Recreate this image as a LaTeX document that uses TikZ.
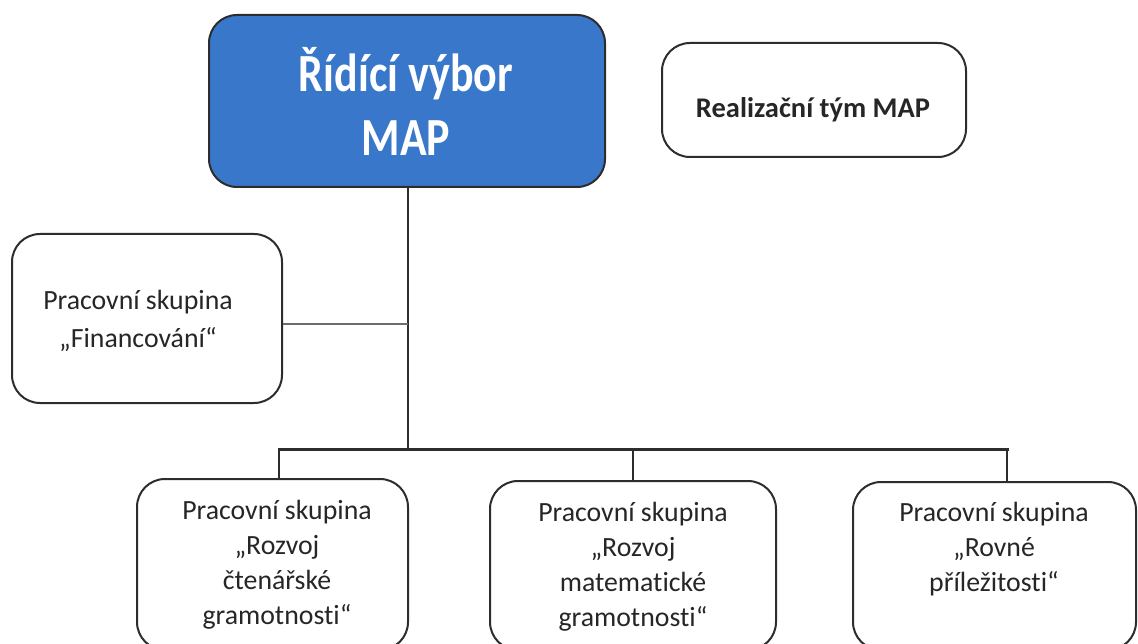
\documentclass[tikz,border=0pt]{standalone}
\usepackage{fontspec}
\setmainfont{Carlito}[Ligatures={NoCommon}]
\definecolor{mapblue}{RGB}{56,119,202}
\definecolor{edgecol}{RGB}{45,45,45}
\definecolor{ink}{RGB}{38,38,38}
\begin{document}
\begin{tikzpicture}[x=1pt,y=-1pt,
  box/.style={draw=edgecol,line width=2pt,rounded corners=28pt,fill=white,inner sep=0pt},
  bodytext/.style={text=ink,align=center,inner sep=0pt,font=\fontsize{27.8}{35}\selectfont},
  trunk/.style={draw=edgecol,line width=2.6pt},
  bus/.style={draw=edgecol,line width=3pt,line cap=rect},
  thinline/.style={draw=edgecol!70,line width=1.3pt}]
\useasboundingbox (0,0) rectangle (1138,644);
\clip (0,0) rectangle (1138,644);

% boxes
\node[box,fill=mapblue,minimum width=396pt,minimum height=172pt] (ridici) at (407,101) {};
\node[box,minimum width=304pt,minimum height=114pt] (realiz) at (814,100) {};
\node[box,minimum width=270pt,minimum height=169pt] (fin) at (147,318.5) {};
\node[box,minimum width=271pt,minimum height=171pt] (ps1) at (272.5,564.5) {};
\node[box,minimum width=286pt,minimum height=169pt] (ps2) at (633,565.5) {};
\node[box,minimum width=283pt,minimum height=168pt] (ps3) at (994.5,566) {};

% texts
\node[text=white,inner sep=0pt,font=\fontsize{44}{52}\selectfont\bfseries] (ridicit) at (406,111)
  {\scalebox{1}[1.22]{\begin{tabular}{@{}c@{}}Řídící výbor\\[0pt]MAP\end{tabular}}};
\node[text=ink,inner sep=0pt,font=\fontsize{28.5}{32}\selectfont\bfseries] (realizt) at (813,110) {Realizační tým MAP};
\node[bodytext,font=\fontsize{27.8}{38}\selectfont] (fint) at (138,321) {Pracovní skupina\\„Financování“};
\node[bodytext] (ps1t) at (277,565) {Pracovní skupina\\„Rozvoj\\čtenářské\\gramotnosti“};
\node[bodytext] (ps2t) at (633,567) {Pracovní skupina\\„Rozvoj\\matematické\\gramotnosti“};
\node[bodytext] (ps3t) at (994,549) {Pracovní skupina\\„Rovné\\příležitosti“};

% connectors
\coordinate (j) at (408,449);
\coordinate (tf) at (408,324);
\coordinate (d1) at (279,449);
\coordinate (d3) at (1007,449);
\draw[trunk] (ridici.south -| j) -- (j);
\draw[thinline] (fin.east |- tf) -- (tf);
\draw[bus] (d1) -- (d3);
\draw[trunk] (d1) -- (ps1.north -| d1);
\draw[trunk] (ps2.north |- j) -- (ps2.north);
\draw[trunk] (d3) -- (ps3.north -| d3);
\end{tikzpicture}
\end{document}
